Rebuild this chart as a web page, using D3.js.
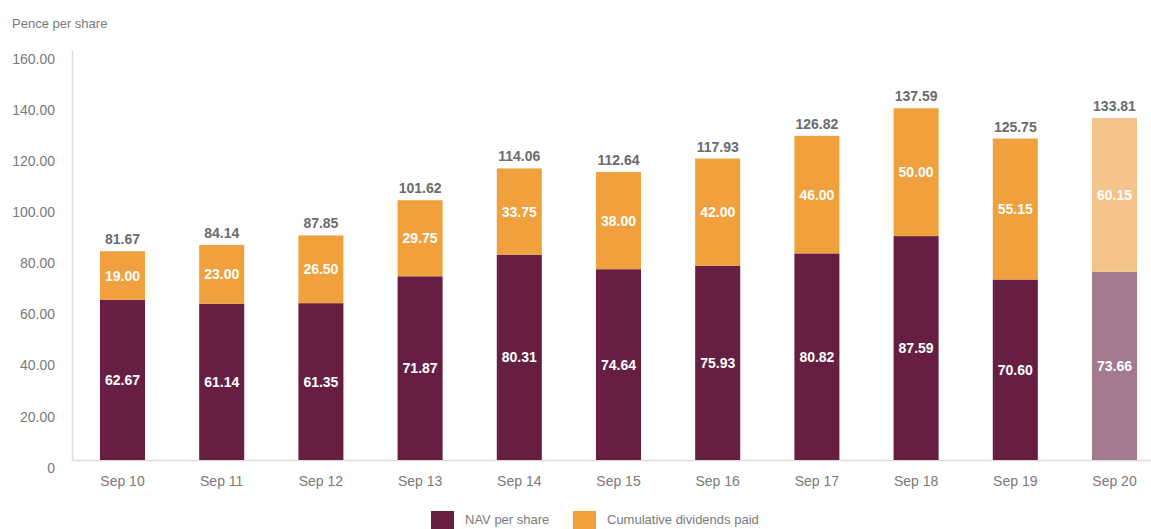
<!DOCTYPE html>
<html>
<head>
<meta charset="utf-8">
<script src="https://cdn.jsdelivr.net/npm/d3@7"></script>
<style>
  html, body { margin: 0; padding: 0; background: #fff; }
  svg { display: block; font-family: "Liberation Sans", Arial, sans-serif; }
</style>
</head>
<body>
<svg id="chart" width="1151" height="529"></svg>
<script>
const categories = ["Sep 10","Sep 11","Sep 12","Sep 13","Sep 14","Sep 15","Sep 16","Sep 17","Sep 18","Sep 19","Sep 20"];
const navPerShare = [62.67, 61.14, 61.35, 71.87, 80.31, 74.64, 75.93, 80.82, 87.59, 70.60, 73.66];
const cumulativeDividends = [19.00, 23.00, 26.50, 29.75, 33.75, 38.00, 42.00, 46.00, 50.00, 55.15, 60.15];
const totals = [81.67, 84.14, 87.85, 101.62, 114.06, 112.64, 117.93, 126.82, 137.59, 125.75, 133.81];
const yTicks = [0, 20, 40, 60, 80, 100, 120, 140, 160];
const seriesNames = ["NAV per share", "Cumulative dividends paid"];
const lighterCategories = ["Sep 20"];

const colors = {
  nav: "#661f43", navLight: "#a37a8f",
  div: "#f0a03c", divLight: "#f5c48a"
};

const svg = d3.select("#chart");
const W = 1151;

const x = d3.scaleBand().domain(categories).range([72.9, 1164.1]).paddingInner(0.546).paddingOuter(0.273);
const y = d3.scaleLinear().domain([0, 160]).range([460, 51]);

// y axis title
svg.append("text").attr("x", 12).attr("y", 28).attr("font-size", 13).attr("fill", "#7a7a7a").text("Pence per share");

// y axis line
svg.append("line").attr("x1", 72.5).attr("x2", 72.5).attr("y1", y(160)).attr("y2", y(0)).attr("stroke", "#dcdcdc").attr("stroke-width", 1.5);
// x axis line
svg.append("line").attr("x1", 72.5).attr("x2", W).attr("y1", y(0) + 0.5).attr("y2", y(0) + 0.5).attr("stroke", "#dcdcdc").attr("stroke-width", 1.5);

// y tick labels
svg.append("g").selectAll("text").data(yTicks).join("text")
  .attr("x", 55).attr("y", d => y(d) + 9)
  .attr("text-anchor", "end").attr("dominant-baseline", "middle")
  .attr("font-size", 14).attr("fill", "#7a7a7a")
  .text(d => d === 0 ? "0" : d3.format(".2f")(d));

const rows = categories.map((c, i) => ({ c, nav: navPerShare[i], div: cumulativeDividends[i], total: totals[i], light: lighterCategories.includes(c) }));

// bars
const g = svg.append("g");
g.selectAll("rect.nav").data(rows).join("rect").attr("class", "nav")
  .attr("x", d => x(d.c)).attr("width", x.bandwidth())
  .attr("y", d => y(d.nav)).attr("height", d => y(0) - y(d.nav))
  .attr("fill", d => d.light ? colors.navLight : colors.nav);
g.selectAll("rect.div").data(rows).join("rect").attr("class", "div")
  .attr("x", d => x(d.c)).attr("width", x.bandwidth())
  .attr("y", d => y(d.nav + d.div)).attr("height", d => y(d.nav) - y(d.nav + d.div))
  .attr("fill", d => d.light ? colors.divLight : colors.div);

// segment labels
g.selectAll("text.navl").data(rows).join("text").attr("class", "navl")
  .attr("x", d => x(d.c) + x.bandwidth() / 2).attr("y", d => (y(0) + y(d.nav)) / 2)
  .attr("text-anchor", "middle").attr("dominant-baseline", "central")
  .attr("font-size", 14).attr("font-weight", "bold").attr("fill", "#fff")
  .text(d => d3.format(".2f")(d.nav));
g.selectAll("text.divl").data(rows).join("text").attr("class", "divl")
  .attr("x", d => x(d.c) + x.bandwidth() / 2).attr("y", d => (y(d.nav) + y(d.nav + d.div)) / 2)
  .attr("text-anchor", "middle").attr("dominant-baseline", "central")
  .attr("font-size", 14).attr("font-weight", "bold").attr("fill", "#fff")
  .text(d => d3.format(".2f")(d.div));
// totals
g.selectAll("text.tot").data(rows).join("text").attr("class", "tot")
  .attr("x", d => x(d.c) + x.bandwidth() / 2).attr("y", d => y(d.nav + d.div) - 7)
  .attr("text-anchor", "middle")
  .attr("font-size", 14).attr("font-weight", "bold").attr("fill", "#6b6b6b")
  .text(d => d3.format(".2f")(d.total));

// x labels
svg.append("g").selectAll("text").data(categories).join("text")
  .attr("x", d => x(d) + x.bandwidth() / 2).attr("y", 486)
  .attr("text-anchor", "middle").attr("font-size", 14).attr("fill", "#7a7a7a")
  .text(d => d);

// legend
const legend = svg.append("g");
const legendItems = [
  { name: seriesNames[0], color: colors.nav, x: 431 },
  { name: seriesNames[1], color: colors.div, x: 573 }
];
legendItems.forEach(it => {
  legend.append("rect").attr("x", it.x).attr("y", 511).attr("width", 23).attr("height", 23).attr("fill", it.color);
  legend.append("text").attr("x", it.x + 34).attr("y", 524).attr("font-size", 13).attr("fill", "#7a7a7a").text(it.name);
});
</script>
</body>
</html>
